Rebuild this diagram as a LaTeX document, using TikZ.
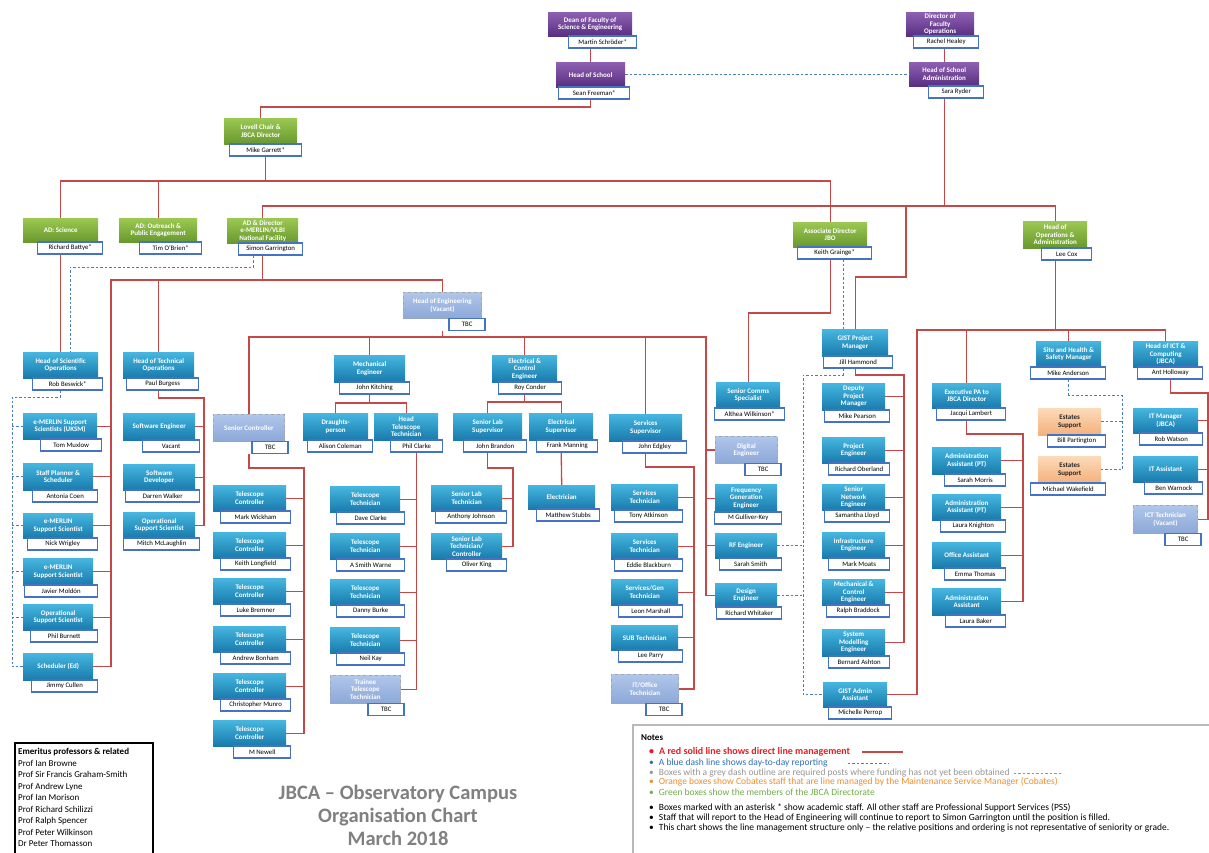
\documentclass[tikz,border=0pt]{standalone}
\usepackage{xcolor}
\usepackage{fontspec}
\setmainfont{Carlito}
\usepackage{tikz}

\definecolor{cyanTop}{RGB}{70,182,224}
\definecolor{cyanBot}{RGB}{24,122,172}
\definecolor{greenTop}{RGB}{156,200,82}
\definecolor{greenBot}{RGB}{104,152,46}
\definecolor{plumTop}{RGB}{142,96,178}
\definecolor{plumBot}{RGB}{88,46,128}
\definecolor{vacTop}{RGB}{176,198,234}
\definecolor{vacBot}{RGB}{140,168,216}
\definecolor{orgTop}{RGB}{252,218,186}
\definecolor{orgBot}{RGB}{245,176,122}
\definecolor{nameBlue}{RGB}{68,114,196}
\definecolor{lineRed}{RGB}{196,72,72}
\definecolor{dayBlue}{RGB}{72,124,188}
\definecolor{noteRed}{RGB}{226,30,36}
\definecolor{noteBlue}{RGB}{46,110,180}
\definecolor{noteGrey}{RGB}{150,150,150}
\definecolor{noteOrange}{RGB}{240,140,40}
\definecolor{noteGreen}{RGB}{112,173,71}
\definecolor{titleGrey}{RGB}{128,128,128}

% post box + name box underneath: [style]{id}{x}{y}{width}{height}{name width}{post}{person}
\newcommand{\staffbox}[9][post node]{%
  \node[#1,minimum width=#5pt,minimum height=#6pt] (#2) at (#3,#4) {#8};
  \node[name node,minimum width=#7pt] (#2n) at ([xshift=5pt,yshift=1pt]#2.south east) {#9};}
% post still to be funded: {id}{x}{y}{width}{height}{post}
\newcommand{\vacantbox}[6]{%
  \node[vac node,minimum width=#4pt,minimum height=#5pt] (#1) at (#2,#3) {#6};
  \node[name node,minimum width=36pt] (#1n) at ([xshift=4pt,yshift=1pt]#1.south east) {TBC};}

\begin{document}
\begin{tikzpicture}[x=1pt,y=-1pt,
	post node/.style={anchor=north west,rectangle,top color=cyanTop,bottom color=cyanBot,text=white,
		align=center,inner sep=1pt,font=\fontsize{7}{7.5}\selectfont\bfseries},
	dir node/.style={post node,top color=greenTop,bottom color=greenBot},
	dean node/.style={post node,top color=plumTop,bottom color=plumBot},
	estate node/.style={post node,top color=orgTop,bottom color=orgBot,text=black!85},
	vac node/.style={post node,top color=vacTop,bottom color=vacBot,draw=gray!70,dashed,thick},
	name node/.style={anchor=north east,rectangle,draw=nameBlue,line width=1.4pt,fill=white,
		minimum height=12pt,inner sep=0.5pt,font=\fontsize{6.8}{7}\selectfont},
	line mgmt/.style={draw=lineRed,line width=1.3pt},
	day line/.style={draw=dayBlue,line width=1pt,dash pattern=on 2.5pt off 2pt},
	note/.style={anchor=west,inner sep=0pt,font=\fontsize{9.5}{10}\selectfont}]
\useasboundingbox[fill=white] (0,0) rectangle (1209,852);

% faculty and school
\staffbox[dean node]{dean}{548}{12}{84}{24}{68}{Dean of Faculty of\\Science \& Engineering}{Martin Schröder*}
\staffbox[dean node]{hos}{556}{62}{69}{25}{71}{Head of School}{Sean Freeman*}
\staffbox[dean node]{dfo}{906}{12}{68}{24}{65}{Director of\\Faculty\\Operations}{Rachel Healey}
\staffbox[dean node]{hsa}{909}{62}{70}{24}{55}{Head of School\\Administration}{Sara Ryder}

% directorate
\staffbox[dir node]{g1}{224}{118}{73}{26}{72}{Lovell Chair \&\\JBCA Director}{Mike Garrett*}
\staffbox[dir node]{g2}{23}{218}{75}{24}{65}{AD: Science}{Richard Battye*}
\staffbox[dir node]{g3}{119}{218}{78}{24}{62}{AD: Outreach \&\\Public Engagement}{Tim O'Brien*}
\staffbox[dir node]{g4}{227}{218}{71}{25}{64}{AD \& Director\\e-MERLIN/VLBI\\National Facility}{Simon Garrington}
\staffbox[dir node]{g5}{793}{222}{74}{25}{74}{Associate Director\\JBO}{Keith Grainge*}
\staffbox[dir node]{g6}{1023}{221}{64}{27}{50}{Head of\\Operations \&\\Administration}{Lee Cox}

% scientific operations
\staffbox{hso}{23}{352}{75}{26}{70}{Head of Scientific\\Operations}{Rob Beswick*}
\staffbox{uksm}{23}{413}{74}{26}{61}{e-MERLIN Support\\Scientists (UKSM)}{Tom Muxlow}
\staffbox{plan}{23}{463}{70}{27}{65}{Staff Planner \&\\Scheduler}{Antonia Coen}
\staffbox{ems1}{23}{513}{70}{25}{70}{e-MERLIN\\Support Scientist}{Nick Wrigley}
\staffbox{ems2}{23}{558}{70}{27}{73}{e-MERLIN\\Support Scientist}{Javier Moldón}
\staffbox{opss}{23}{604}{70}{26}{67}{Operational\\Support Scientist}{Phil Burnett}
\staffbox{sched}{23}{653}{70}{27}{66}{Scheduler (Ed)}{Jimmy Cullen}

% technical operations
\staffbox{hto}{123}{352}{71}{26}{72}{Head of Technical\\Operations}{Paul Burgess}
\staffbox{swe}{123}{413}{72}{27}{57}{Software Engineer}{Vacant}
\staffbox{swd}{123}{464}{72}{26}{74}{Software\\Developer}{Darren Walker}
\staffbox{oss}{123}{512}{72}{26}{76}{Operational\\Support Scientist}{Mitch McLaughlin}

% engineering
\vacantbox{hoe}{403}{292}{78}{26}{Head of Engineering\\(Vacant)}
\vacantbox{sc}{213}{414}{71}{27}{Senior Controller}
\staffbox{tc1}{213}{485}{73}{26}{70}{Telescope\\Controller}{Mark Wickham}
\staffbox{tc2}{213}{532}{73}{26}{70}{Telescope\\Controller}{Keith Longfield}
\staffbox{tc3}{213}{578}{73}{26}{70}{Telescope\\Controller}{Luke Bremner}
\staffbox{tc4}{213}{626}{73}{26}{70}{Telescope\\Controller}{Andrew Bonham}
\staffbox{tc5}{213}{673}{73}{26}{70}{Telescope\\Controller}{Christopher Munro}
\staffbox{tc6}{213}{720}{73}{26}{57}{Telescope\\Controller}{M Newell}

\staffbox{me}{334}{355}{71}{27}{70}{Mechanical\\Engineer}{John Kitching}
\staffbox{dp}{303}{413}{65}{27}{65}{Draughts-\\person}{Alison Coleman}
\staffbox{htt}{374}{413}{64}{27}{52}{Head\\Telescope\\Technician}{Phil Clarke}
\staffbox{tt1}{330}{486}{70}{26}{68}{Telescope\\Technician}{Dave Clarke}
\staffbox{tt2}{330}{533}{70}{26}{68}{Telescope\\Technician}{A Smith Warne}
\staffbox{tt3}{330}{579}{70}{26}{68}{Telescope\\Technician}{Danny Burke}
\staffbox{tt4}{330}{627}{70}{26}{68}{Telescope\\Technician}{Neil Kay}
\vacantbox{tt5}{330}{675}{70}{28}{Trainee\\Telescope\\Technician}

\staffbox{ece}{492}{355}{65}{27}{63}{Electrical \&\\Control\\Engineer}{Roy Conder}
\staffbox{sls}{453}{413}{69}{27}{63}{Senior Lab\\Supervisor}{John Brandon}
\staffbox{es}{529}{413}{64}{27}{61}{Electrical\\Supervisor}{Frank Manning}
\staffbox{slt}{431}{485}{71}{26}{71}{Senior Lab\\Technician}{Anthony Johnson}
\staffbox{et}{431}{533}{71}{26}{60}{Senior Lab\\Technician/\\Controller}{Oliver King}
\staffbox{elec}{528}{485}{67}{24}{63}{Electrician}{Matthew Stubbs}

\staffbox{ss}{609}{414}{73}{27}{64}{Services\\Supervisor}{John Edgley}
\staffbox{st1}{611}{484}{67}{26}{68}{Services\\Technician}{Tony Atkinson}
\staffbox{st2}{611}{533}{67}{26}{68}{Services\\Technician}{Eddie Blackburn}
\staffbox{sgt}{611}{579}{67}{26}{64}{Services/Gen\\Technician}{Leon Marshall}
\staffbox{sub}{611}{625}{67}{25}{64}{SUB Technician}{Lee Parry}
\vacantbox{ot}{611}{674}{67}{29}{IT/Office\\Technician}

\vacantbox{digi}{715}{436}{62}{27}{Digital\\Engineer}
\staffbox{freq}{715}{484}{62}{28}{67}{Frequency\\Generation\\Engineer}{M Gulliver-Key}
\staffbox{rf}{715}{533}{62}{25}{62}{RF Engineer}{Sarah Smith}
\staffbox{design}{715}{583}{62}{24}{65}{Design\\Engineer}{Richard Whitaker}
\staffbox{comms}{716}{382}{64}{26}{70}{Senior Comms\\Specialist}{Althea Wilkinson*}

% GIST
\staffbox{gist}{822}{329}{66}{27}{69}{GIST Project\\Manager}{Jill Hammond}
\staffbox{dpm}{822}{383}{63}{27}{65}{Deputy\\Project\\Manager}{Mike Pearson}
\staffbox{proj}{822}{437}{63}{26}{61}{Project\\Engineer}{Richard Oberland}
\staffbox{snet}{822}{484}{63}{26}{65}{Senior\\Network\\Engineer}{Samantha Lloyd}
\staffbox{infra}{822}{532}{63}{26}{61}{Infrastructure\\Engineer}{Mark Moats}
\staffbox{mech}{822}{579}{63}{26}{63}{Mechanical \&\\Control\\Engineer}{Ralph Braddock}
\staffbox{sysmod}{822}{629}{63}{27}{61}{System\\Modelling\\Engineer}{Bernard Ashton}
\staffbox{gadmin}{823}{682}{64}{25}{63}{GIST Admin\\Assistant}{Michelle Perrop}

% operations and administration
\staffbox{epa}{932}{383}{69}{25}{69}{Executive PA to\\JBCA Director}{Jacqui Lambert}
\staffbox{adm1}{932}{447}{69}{27}{61}{Administration\\Assistant (PT)}{Sarah Morris}
\staffbox{adm2}{932}{494}{69}{26}{65}{Administration\\Assistant (PT)}{Laura Knighton}
\staffbox{office}{932}{542}{69}{26}{61}{Office Assistant}{Emma Thomas}
\staffbox{aa3}{932}{588}{69}{27}{60}{Administration\\Assistant}{Laura Baker}
\staffbox{safe}{1036}{341}{65}{26}{75}{Site and Health \&\\Safety Manager}{Mike Anderson}
\staffbox[estate node]{est1}{1038}{408}{63}{27}{58}{Estates\\Support}{Bill Partington}
\staffbox[estate node]{est2}{1038}{456}{63}{27}{75}{Estates\\Support}{Michael Wakefield}
\staffbox{ict}{1133}{341}{65}{26}{65}{Head of ICT \&\\Computing\\(JBCA)}{Ant Holloway}
\staffbox{itm}{1133}{408}{65}{25}{63}{IT Manager\\(JBCA)}{Rob Watson}
\staffbox{ita}{1133}{456}{65}{26}{58}{IT Assistant}{Ben Warnock}
\vacantbox{ictt}{1133}{505}{64}{28}{ICT Technician\\(Vacant)}

% bus corners
\coordinate (busA) at (0,107);
\coordinate (busB) at (0,181);
\coordinate (busC) at (0,206);
\coordinate (busD) at (906,277);
\coordinate (busE) at (0,313);
\coordinate (busF) at (803,375);
\coordinate (busG) at (904,375);
\coordinate (busH) at (0,330);
\coordinate (busI) at (917,330);
\coordinate (busJ) at (1023,434);
\coordinate (busK) at (1122,395);
\coordinate (busL) at (1208,393);
\coordinate (busM) at (111,280);
\coordinate (busN) at (70,267);
\coordinate (busO) at (12,397);
\coordinate (busP) at (204,398);
\coordinate (busQ) at (0,337);
\coordinate (busR) at (706,337);
\coordinate (busS) at (304,468);
\coordinate (busT) at (0,403);
\coordinate (busU) at (0,402);
\coordinate (busV) at (513,468);
\coordinate (busW) at (694,467);

% direct line management
\draw[line mgmt] (deann.south -| hos.north) -- (hos.north);
\draw[line mgmt] (dfon.south -| hsa.north) -- (hsa.north);
\draw[line mgmt] (hos.south |- hosn.south) |- (g1.north |- busA) -- (g1.north);
\draw[line mgmt] (g1n.south) -- (g1n.south |- busB);
\draw[line mgmt] (g2.north) |- (g5.north |- busB) -- (g5.north);
\draw[line mgmt] (g3.north) -- (g3.north |- busB);
\draw[line mgmt] (hsa.south |- hsan.south) -- (hsa.south |- busC);
\draw[line mgmt] (g4.north) |- (g6.north |- busC) -- (g6.north);
\draw[line mgmt] (busD |- busC) -- (busD) -| (gist.north);
\draw[line mgmt] (g5.south |- g5n.south) |- (comms.north |- busE) -- (comms.north);
\draw[line mgmt] (g2.south |- g2n.south) -- (hso.north);
\draw[line mgmt] (g4.south |- g4n.south) -- (g4.south |- busM);
\draw[line mgmt] (busM |- sched.east) -- (busM) -- (hoe.north |- busM) -- (hoe.north);
\draw[line mgmt] (hto.north) -- (hto.north |- busM);
\draw[line mgmt] (uksm.east) -- (uksm.east -| busM) (plan.east) -- (plan.east -| busM)
	(ems1.east) -- (ems1.east -| busM) (ems2.east) -- (ems2.east -| busM)
	(opss.east) -- (opss.east -| busM) (sched.east) -- (sched.east -| busM);
\draw[line mgmt] (hto.south |- hton.south) |- (busP) -- (busP |- oss.east) -- (oss.east);
\draw[line mgmt] (swe.east) -- (swe.east -| busP) (swd.east) -- (swd.east -| busP);
\draw[line mgmt] (hoen.south -| hoe.south) -- (hoe.south |- busQ);
\draw[line mgmt] (sc.north) |- (busR) -- (busR |- design.west) -- (design.west);
\draw[line mgmt] (me.north) -- (me.north |- busQ) (ece.north) -- (ece.north |- busQ)
	(ss.north) -- (ss.north |- busQ);
\draw[line mgmt] (digi.west) -- (digi.west -| busR) (freq.west) -- (freq.west -| busR)
	(rf.west) -- (rf.west -| busR);
\draw[line mgmt] (sc.south |- scn.south) |- (busS) -- (busS |- tc6.east) -- (tc6.east);
\draw[line mgmt] (tc1.east) -- (tc1.east -| busS) (tc2.east) -- (tc2.east -| busS)
	(tc3.east) -- (tc3.east -| busS) (tc4.east) -- (tc4.east -| busS) (tc5.east) -- (tc5.east -| busS);
\draw[line mgmt] (me.south |- men.south) -- (me.south |- busT);
\draw[line mgmt] (dp.north) |- (htt.north |- busT) -- (htt.north);
\draw[line mgmt] (httn.south) -- (httn.south |- tt5.east) -- (tt5.east);
\draw[line mgmt] (tt1.east) -- (tt1.east -| httn.south) (tt2.east) -- (tt2.east -| httn.south)
	(tt3.east) -- (tt3.east -| httn.south) (tt4.east) -- (tt4.east -| httn.south);
\draw[line mgmt] (ece.south |- ecen.south) -- (ece.south |- busU);
\draw[line mgmt] (sls.north) |- (es.north |- busU) -- (es.north);
\draw[line mgmt] (sls.south |- slsn.south) |- (busV) -- (busV |- et.east) -- (et.east);
\draw[line mgmt] (slt.east) -- (slt.east -| busV);
\draw[line mgmt] (es.south |- esn.south) -- (elec.north);
\draw[line mgmt] (ss.south |- ssn.south) |- (busW) -- (busW |- ot.east) -- (ot.east);
\draw[line mgmt] (st1.east) -- (st1.east -| busW) (st2.east) -- (st2.east -| busW)
	(sgt.east) -- (sgt.east -| busW) (sub.east) -- (sub.east -| busW);
\draw[line mgmt] (gist.south |- gistn.south) |- (busG) -- (busG |- sysmod.east) -- (sysmod.east);
\draw[line mgmt] (dpm.east) -- (dpm.east -| busG) (proj.east) -- (proj.east -| busG)
	(snet.east) -- (snet.east -| busG) (infra.east) -- (infra.east -| busG)
	(mech.east) -- (mech.east -| busG);
\draw[line mgmt] (g6.south |- g6n.south) -- (g6.south |- busH);
\draw[line mgmt] (gadmin.east) -| (busI) -- (ict.north |- busI) -- (ict.north);
\draw[line mgmt] (epa.north) -- (epa.north |- busI) (safe.north) -- (safe.north |- busI);
\draw[line mgmt] (epa.south |- epan.south) |- (busJ) -- (busJ |- aa3.east) -- (aa3.east);
\draw[line mgmt] (adm1.east) -- (adm1.east -| busJ) (adm2.east) -- (adm2.east -| busJ)
	(office.east) -- (office.east -| busJ);
\draw[line mgmt] (ictn.south) |- (busL) -- (busL |- ictt.east) -- (ictt.east);
\draw[line mgmt] (itm.east) -- (itm.east -| busL) (ita.east) -- (ita.east -| busL);

% day-to-day reporting
\draw[day line] (hos.east) -- (hos.east -| hsa.west);
\draw[day line] ([xshift=-17pt]g4n.south) |- (busN) -- (busN |- hso.north);
\draw[day line] (hso.south |- hson.south) |- (busO) -- (busO |- sched.west) -- (sched.west);
\draw[day line] (uksm.west) -- (uksm.west -| busO) (plan.west) -- (plan.west -| busO)
	(ems1.west) -- (ems1.west -| busO) (ems2.west) -- (ems2.west -| busO)
	(opss.west) -- (opss.west -| busO);
\draw[day line] ([xshift=-12pt]gist.north) -- ([xshift=-12pt]gist.north |- g5n.south);
\draw[day line] ([xshift=-12pt]gist.south |- gistn.south) |- (busF) -- (busF |- gadmin.west) -- (gadmin.west);
\draw[day line] (rf.east) -- (rf.east -| busF) (design.east) -- (design.east -| busF);
\draw[day line] (safe.south |- safen.south) |- (busK) -- (busK |- est2.east) -- (est2.east);
\draw[day line] (est1.east) -- (est1.east -| busK);

% emeritus list
\draw[line width=1.2pt] (15,860) |- (153,743) -- (153,860);
\node[anchor=north west,align=left,inner sep=0pt,font=\fontsize{9}{11.5}\selectfont] (emer) at (18,748)
	{\textbf{Emeritus professors \& related}\\Prof Ian Browne\\Prof Sir Francis Graham-Smith\\Prof Andrew Lyne\\
	Prof Ian Morison\\Prof Richard Schilizzi\\Prof Ralph Spencer\\Prof Peter Wilkinson\\Dr Peter Thomasson};

% chart title
\node[align=center,text=titleGrey,font=\fontsize{20.5}{23}\selectfont\bfseries] (title) at (398,815)
	{JBCA – Observatory Campus\\Organisation Chart\\March 2018};

% notes
\draw[draw=gray!55,line width=1.3pt] (633,860) |- (1215,725);
\node[note,font=\fontsize{9}{10}\selectfont\bfseries] (notes) at (641,738) {Notes};
\node[note,text=noteRed,font=\fontsize{10}{10}\selectfont\bfseries] (n1) at (649,752)
	{\textbullet\hspace{5pt}A red solid line shows direct line management};
\node[note,text=noteBlue] (n2) at (649,763) {\textbullet\hspace{5pt}A blue dash line shows day-to-day reporting};
\node[note,text=noteGrey] (n3) at (649,773)
	{\textbullet\hspace{5pt}Boxes with a grey dash outline are required posts where funding has not yet been obtained};
\node[note,text=noteOrange] (n4) at (649,782)
	{\textbullet\hspace{5pt}Orange boxes show Cobates staff that are line managed by the Maintenance Service Manager (Cobates)};
\node[note,text=noteGreen] (n5) at (649,792) {\textbullet\hspace{5pt}Green boxes show the members of the JBCA Directorate};
\node[note] (n6) at (649,808)
	{\textbullet\hspace{5pt}Boxes marked with an asterisk * show academic staff. All other staff are Professional Support Services (PSS)};
\node[note] (n7) at (649,818)
	{\textbullet\hspace{5pt}Staff that will report to the Head of Engineering will continue to report to Simon Garrington until the position is filled.};
\node[note] (n8) at (649,828)
	{\textbullet\hspace{5pt}This chart shows the line management structure only – the relative positions and ordering is not representative of seniority or grade.};
\draw[line mgmt] ([xshift=12pt]n1.east) -- ++(41,0);
\draw[day line] ([xshift=20pt]n2.east) -- ++(41,0);
\draw[draw=noteGrey,line width=0.8pt,dash pattern=on 2.5pt off 2pt] ([xshift=4pt]n3.east) -- ++(47,0);
\end{tikzpicture}
\end{document}
